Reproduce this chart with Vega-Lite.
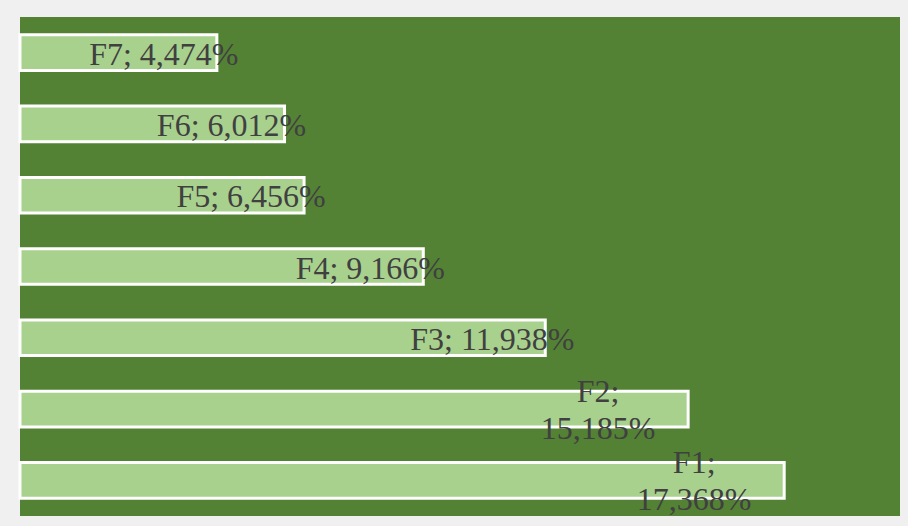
{
  "$schema": "https://vega.github.io/schema/vega-lite/v6.json",
  "width": 880,
  "height": 499,
  "autosize": {"type": "none"},
  "padding": {"left": 20, "top": 17, "right": 8, "bottom": 10},
  "background": "#f0f0f0",
  "config": {"view": {"stroke": null, "fill": "#548235"}},
  "data": {
    "values": [
      {"cat": "F1", "value": 17.368, "label": "F1;\n17,368%"},
      {"cat": "F2", "value": 15.185, "label": "F2;\n15,185%"},
      {"cat": "F3", "value": 11.938, "label": "F3; 11,938%"},
      {"cat": "F4", "value": 9.166, "label": "F4; 9,166%"},
      {"cat": "F5", "value": 6.456, "label": "F5; 6,456%"},
      {"cat": "F6", "value": 6.012, "label": "F6; 6,012%"},
      {"cat": "F7", "value": 4.474, "label": "F7; 4,474%"}
    ]
  },
  "encoding": {
    "y": {
      "field": "cat",
      "type": "nominal",
      "sort": ["F7", "F6", "F5", "F4", "F3", "F2", "F1"],
      "scale": {"paddingInner": 0.5, "paddingOuter": 0.25},
      "axis": null
    },
    "x": {
      "field": "value",
      "type": "quantitative",
      "scale": {"domain": [0, 20], "nice": false},
      "axis": null
    }
  },
  "layer": [
    {
      "mark": {"type": "bar", "fill": "#A9D18E", "stroke": "#ffffff", "strokeWidth": 3, "strokeJoin": "miter"}
    },
    {
      "transform": [{"filter": {"field": "cat", "oneOf": ["F3", "F4", "F5", "F6", "F7"]}}],
      "mark": {"type": "text", "font": "Liberation Serif", "fontSize": 32, "color": "#404040", "align": "center", "baseline": "middle", "dx": -53, "dy": 2},
      "encoding": {"text": {"field": "label"}}
    },
    {
      "transform": [{"filter": {"field": "cat", "oneOf": ["F1", "F2"]}}],
      "mark": {"type": "text", "font": "Liberation Serif", "fontSize": 32, "color": "#404040", "align": "center", "baseline": "middle", "lineBreak": "\n", "lineHeight": 37, "dx": -90, "dy": -17},
      "encoding": {"text": {"field": "label"}}
    }
  ]
}
